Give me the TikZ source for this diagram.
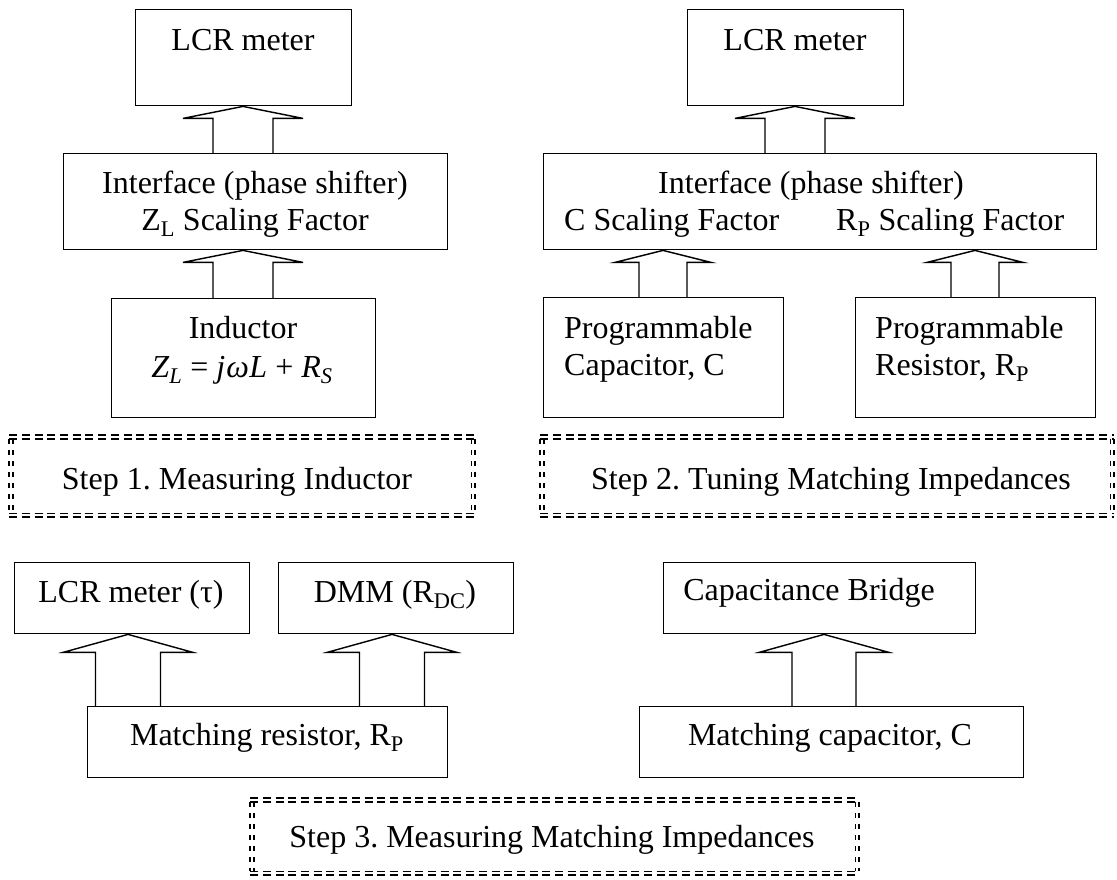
\documentclass[tikz,border=0pt]{standalone}
\usepackage{fontspec}
\setmainfont{Liberation Serif}
\frenchspacing
\usetikzlibrary{calc}
\tikzset{
  box/.style={draw, line width=1.4pt, inner sep=0pt, anchor=north west},
  frame/.style={inner sep=0pt, anchor=north west},
  txt/.style={inner sep=0pt, anchor=base, font=\fontsize{32pt}{37pt}\selectfont},
  txtl/.style={txt, anchor=base west},
  arrowline/.style={line width=1.4pt, line join=miter},
  dashh/.style={line width=1.6pt, dash pattern=on 8pt off 4.7pt},
  dashv/.style={line width=1.6pt, dash pattern=on 5pt off 6pt}
}
% #1 lower node, #2 upper node, #3 x centre, #4 shaft half width, #5 head half width, #6 head height
\newcommand\hollowarrow[6]{%
  \draw[arrowline] let \p1=(#1.north), \p2=(#2.south) in
    ({(#3-#4)*1pt},\y1) -- ({(#3-#4)*1pt},{\y2-#6pt}) -- ({(#3-#5)*1pt},{\y2-#6pt})
    -- ({#3*1pt},\y2) -- ({(#3+#5)*1pt},{\y2-#6pt}) -- ({(#3+#4)*1pt},{\y2-#6pt})
    -- ({(#3+#4)*1pt},\y1);}
% double dashed frame round a node
\newcommand\dblframe[1]{%
  \foreach \o in {-1.8,1.8}{%
    \draw[dashh] ([xshift=-1.8pt,yshift=\o pt]#1.north west) -- ([xshift=1.8pt,yshift=\o pt]#1.north east);
    \draw[dashh] ([xshift=-1.8pt,yshift=\o pt]#1.south west) -- ([xshift=1.8pt,yshift=\o pt]#1.south east);
    \draw[dashv] ([xshift=\o pt,yshift=-2pt]#1.north west) -- ([xshift=\o pt,yshift=2pt]#1.south west);
    \draw[dashv] ([xshift=\o pt,yshift=-2pt]#1.north east) -- ([xshift=\o pt,yshift=2pt]#1.south east);
  }}
\begin{document}
\begin{tikzpicture}[x=1pt,y=-1pt]
\fill[white] (0,0) rectangle (1117,879);
\useasboundingbox (0,0) rectangle (1117,879);

% ---------- Step 1 ----------
\node[box, minimum width=216pt, minimum height=96pt] (lcr1) at (135,9) {};
\node[box, minimum width=384pt, minimum height=96pt] (if1) at (63,153) {};
\node[box, minimum width=264pt, minimum height=119pt] (ind) at (111,298) {};
\node[frame, minimum width=462pt, minimum height=78pt] (s1) at (11,437) {};
\dblframe{s1}

\node[txt] (t-lcr1) at (243,50) {LCR meter};
\node[txt] (t-if1a) at (255,193) {Interface (phase shifter)};
\node[txt] (t-if1b) at (255,230) {Z\textsubscript{L} Scaling Factor};
\node[txt] (t-ind) at (243,338) {Inductor};
\node[txt] (t-indf) at (242,377) {\textit{Z}\textsubscript{\textit{L}} = \textit{j\kern1pt ω\kern0.5pt L} + \textit{R}\textsubscript{\textit{S}}};
\node[txt] (t-s1) at (237,489) {Step 1. Measuring Inductor};

\hollowarrow{if1}{lcr1}{243}{30}{60}{12}
\hollowarrow{ind}{if1}{243}{30}{60}{12}

% ---------- Step 2 ----------
\node[box, minimum width=216pt, minimum height=96pt] (lcr2) at (687,9) {};
\node[box, minimum width=553pt, minimum height=96pt] (if2) at (543,153) {};
\node[box, minimum width=240pt, minimum height=120pt] (pcap) at (543,297) {};
\node[box, minimum width=240pt, minimum height=120pt] (pres) at (855,297) {};
\node[frame, minimum width=570pt, minimum height=78pt] (s2) at (542,437) {};
\dblframe{s2}

\node[txt] (t-lcr2) at (795,50) {LCR meter};
\node[txt] (t-if2a) at (811,193) {Interface (phase shifter)};
\node[txtl] (t-if2b) at (564,230) {C Scaling Factor};
\node[txtl] (t-if2c) at (836,230) {R\textsubscript{P} Scaling Factor};
\node[txtl] (t-pc1) at (564,338) {Programmable};
\node[txtl] (t-pc2) at (564,375) {Capacitor, C};
\node[txtl] (t-pr1) at (875,338) {Programmable};
\node[txtl] (t-pr2) at (875,375) {Resistor, R\textsubscript{P}};
\node[txt] (t-s2) at (831,489) {Step 2. Tuning Matching Impedances};

\hollowarrow{if2}{lcr2}{795}{30}{60}{12}
\hollowarrow{pcap}{if2}{663}{24}{48}{12}
\hollowarrow{pres}{if2}{975}{24}{48}{12}

% ---------- Step 3 ----------
\node[box, minimum width=235pt, minimum height=71pt] (lcrt) at (14,562) {};
\node[box, minimum width=235pt, minimum height=71pt] (dmm) at (278,562) {};
\node[box, minimum width=360pt, minimum height=71pt] (mres) at (87,706) {};
\node[box, minimum width=312pt, minimum height=71pt] (cb) at (663,562) {};
\node[box, minimum width=384pt, minimum height=71pt] (mcap) at (639,706) {};
\node[frame, minimum width=605pt, minimum height=73pt] (s3) at (252,800) {};
\dblframe{s3}

\node[txt] (t-lcrt) at (131,602) {LCR meter (τ)};
\node[txt] (t-dmm) at (395,602) {DMM (R\textsubscript{DC})};
\node[txt] (t-cb) at (809,600) {Capacitance Bridge};
\node[txt] (t-mres) at (267,745) {Matching resistor, R\textsubscript{P}};
\node[txt] (t-mcap) at (830,745) {Matching capacitor, C};
\node[txt] (t-s3) at (552,847) {Step 3. Measuring Matching Impedances};

\hollowarrow{mres}{lcrt}{128}{32.5}{65}{18}
\hollowarrow{mres}{dmm}{392}{32.5}{65}{18}
\hollowarrow{mcap}{cb}{824}{32}{65}{18}
\end{tikzpicture}
\end{document}
